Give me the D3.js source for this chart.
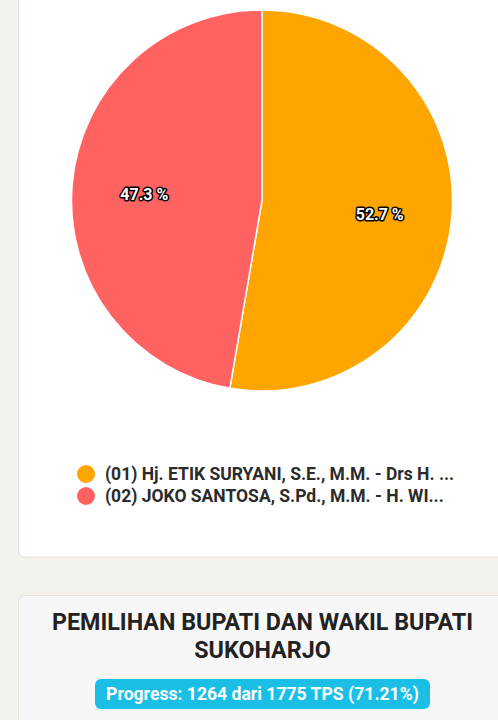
<!DOCTYPE html>
<html>
<head>
<meta charset="utf-8">
<script src="https://cdn.jsdelivr.net/npm/d3@7"></script>
<style>
  html, body { margin: 0; padding: 0; background: #f5f2ee; overflow: hidden; }
  svg { display: block; font-family: Roboto, "Noto Sans", sans-serif; }
</style>
</head>
<body>
<svg id="chart" width="498" height="720"></svg>
<script>
// Vote shares per candidate pair (percent)
const candidates = [
  "(01) Hj. ETIK SURYANI, S.E., M.M. - Drs H. ...",
  "(02) JOKO SANTOSA, S.Pd., M.M. - H. WI..."
];
const shares = [52.7, 47.3];
const colors = ["#ffa500", "#ff6361"];

const titleLines = ["PEMILIHAN BUPATI DAN WAKIL BUPATI", "SUKOHARJO"];
const tpsDone = 1264;
const tpsTotal = 1775;
const tpsPercent = 71.21;

const svg = d3.select("#chart");

// Chart card
svg.append("rect")
  .attr("x", 18.5).attr("y", -10).attr("width", 500).attr("height", 567)
  .attr("rx", 6).attr("fill", "#ffffff").attr("stroke", "#e4e2df");

// Pie
const cx = 262, cy = 200.5, radius = 190.5;
const pie = d3.pie().sort(null).value(d => d)(shares);
const arc = d3.arc().innerRadius(0).outerRadius(radius);
const labelArc = d3.arc().innerRadius(radius * 0.62).outerRadius(radius * 0.62);

const g = svg.append("g").attr("transform", `translate(${cx},${cy})`);
g.selectAll("path.slice")
  .data(pie)
  .join("path")
  .attr("class", "slice")
  .attr("d", arc)
  .attr("fill", (d, i) => colors[i])
  .attr("stroke", "#ffffff")
  .attr("stroke-width", 1.5);

g.selectAll("text.value")
  .data(pie)
  .join("text")
  .attr("class", "value")
  .attr("transform", d => `translate(${labelArc.centroid(d)})`)
  .attr("text-anchor", "middle")
  .attr("dy", "0.58em")
  .attr("font-size", 16)
  .attr("font-weight", 700)
  .attr("fill", "#ffffff")
  .attr("stroke", "#000000")
  .attr("stroke-width", 3)
  .attr("stroke-linejoin", "round")
  .attr("paint-order", "stroke")
  .text(d => d.data.toFixed(1) + " %");

// Legend
const legend = svg.append("g").attr("transform", "translate(86,474)");
const items = legend.selectAll("g.item")
  .data(candidates)
  .join("g")
  .attr("class", "item")
  .attr("transform", (d, i) => `translate(0,${i * 22})`);
items.append("circle").attr("r", 9).attr("fill", (d, i) => colors[i]);
items.append("text")
  .attr("x", 19).attr("dy", "0.36em")
  .attr("font-size", 17.5).attr("font-weight", 700)
  .attr("fill", "#2b2b2b")
  .text(d => d);

// Summary card
svg.append("rect")
  .attr("x", 18.5).attr("y", 595.5).attr("width", 500).attr("height", 200)
  .attr("rx", 6).attr("fill", "#f7f7f7").attr("stroke", "#e4e2df");

svg.selectAll("text.title")
  .data(titleLines)
  .join("text")
  .attr("class", "title")
  .attr("x", 262.5)
  .attr("y", (d, i) => 630 + i * 28)
  .attr("text-anchor", "middle")
  .attr("font-size", 23.3).attr("font-weight", 700)
  .attr("fill", "#222222")
  .text(d => d);

svg.append("rect")
  .attr("x", 95).attr("y", 679).attr("width", 335).attr("height", 30)
  .attr("rx", 6).attr("fill", "#1bbfe6");
svg.append("text")
  .attr("x", 262.5).attr("y", 694).attr("dy", "0.36em")
  .attr("text-anchor", "middle")
  .attr("font-size", 17.6).attr("font-weight", 700)
  .attr("fill", "#ffffff")
  .text(`Progress: ${tpsDone} dari ${tpsTotal} TPS (${tpsPercent.toFixed(2)}%)`);
</script>
</body>
</html>
